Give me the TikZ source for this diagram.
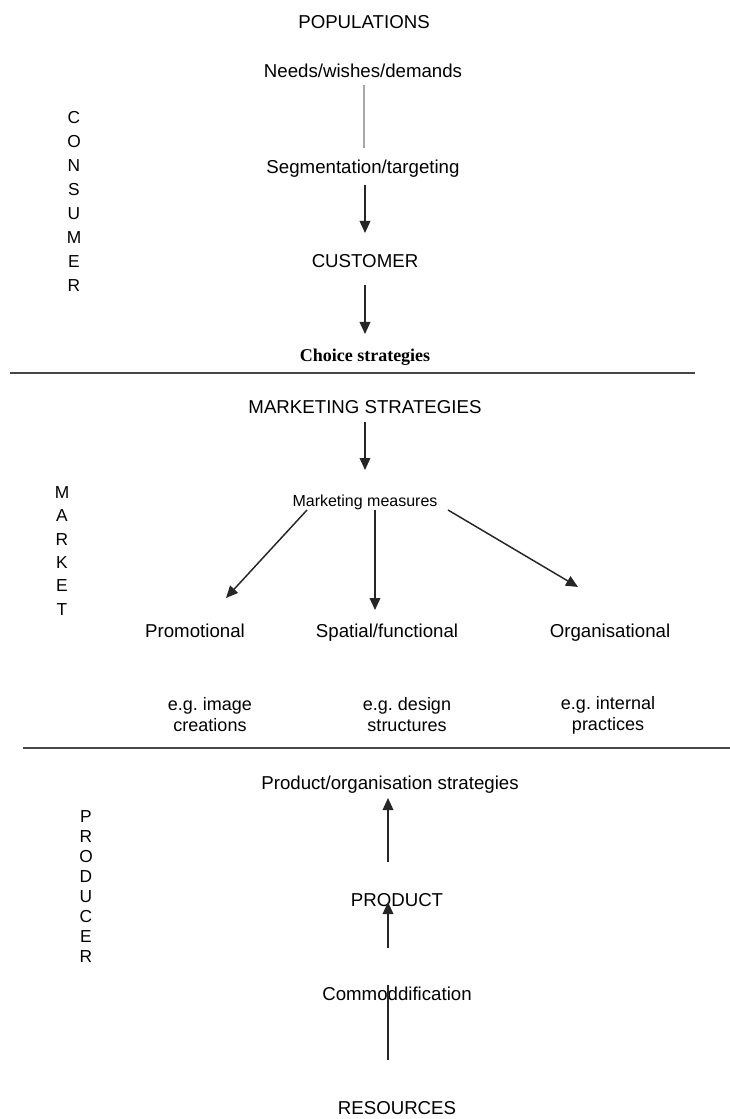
\documentclass[tikz,border=0pt]{standalone}
\usepackage{fontspec}
\setmainfont{Liberation Sans}
\newfontfamily\serifb{Liberation Serif}
\usetikzlibrary{arrows.meta,calc}
\frenchspacing
\begin{document}
\begin{tikzpicture}[x=0.75pt,y=-0.75pt,
  lbl/.style={font=\fontsize{14}{16}\selectfont, inner sep=0pt, text height=10pt, text depth=0pt},
  small/.style={font=\fontsize{12}{14}\selectfont, inner sep=0pt, text height=8.6pt, text depth=0pt},
  serlbl/.style={font=\serifb\bfseries\fontsize{13.5}{16}\selectfont, inner sep=0pt, text height=9pt, text depth=0pt},
  eg/.style={font=\fontsize{13.5}{15.75}\selectfont, inner sep=0pt, align=center},
  side/.style={font=\fontsize{13}{#1}\selectfont, inner sep=0pt, align=center},
  arr/.style={line width=1.1pt, draw=black!85, -{Triangle[width=8pt,length=9pt]}},
  plain/.style={line width=1.1pt, draw=black!85},
  divider/.style={line width=1.3pt, draw=black!72}]
\useasboundingbox (0,0) rectangle (730,1119);

% consumer section
\node[lbl] (pop) at (364,22) {POPULATIONS};
\node[lbl] (needs) at (363,71) {Needs/wishes/demands};
\node[lbl] (seg) at (363,167) {Segmentation/targeting};
\node[lbl] (cust) at (365,261) {CUSTOMER};
\node[serlbl] (choice) at (365,356) {Choice strategies};

\node[side=18pt] (consumer) at (74,201) {C\\O\\N\\S\\U\\M\\E\\R};

\draw[line width=1.5pt, draw=black!35] ($(needs)+(1,14)$) -- ($(seg)+(1,-19)$);
\draw[arr] ($(seg)+(2,18)$) -- ($(cust)+(0,-28)$);
\draw[arr] ($(cust)+(0,24)$) -- ($(choice)+(0,-22)$);

\draw[divider] (10,373) -- (695,373);

% market section
\node[lbl] (ms) at (365,407) {MARKETING STRATEGIES};
\node[small] (mm) at (365,501) {Marketing measures};
\node[lbl] (promo) at (195,631) {Promotional};
\node[lbl] (spat) at (387,631) {Spatial/functional};
\node[lbl] (org) at (610,631) {Organisational};
\node[eg] (eg1) at (210,715) {e.g. image\\creations};
\node[eg] (eg2) at (407,715) {e.g. design\\structures};
\node[eg] (eg3) at (608,715) {e.g. internal\\practices};

\node[side=17.5pt] (market) at (62,551) {M\\A\\R\\K\\E\\T};

\draw[arr] ($(ms)+(0,15)$) -- ($(mm)+(0,-31)$);
\draw[arr] ($(mm)+(-58,9)$) -- ($(promo)+(31,-33)$);
\draw[arr] ($(mm)+(10,9)$) -- ($(spat)+(-12,-21)$);
\draw[arr] ($(mm)+(83,9)$) -- ($(org)+(-32,-44)$);

\draw[divider] (23,748) -- (730,748);

% producer section
\node[lbl] (pos) at (390,783) {Product/organisation strategies};
\node[lbl] (prod) at (397,900) {PRODUCT};
\node[lbl] (comm) at (397,994) {Commoddification};
\node[lbl] (res) at (397,1108) {RESOURCES};

\node[side=15pt] (producer) at (86,887) {P\\R\\O\\D\\U\\C\\E\\R};

\draw[arr] ($(prod)+(-9,-38)$) -- ($(pos)+(-2,15)$);
\draw[arr] ($(comm)+(-9,-46)$) -- ($(prod)+(-9,2)$);
\draw[plain] ($(res)+(-9,-48)$) -- ($(comm)+(-9,-9)$);
\end{tikzpicture}
\end{document}
